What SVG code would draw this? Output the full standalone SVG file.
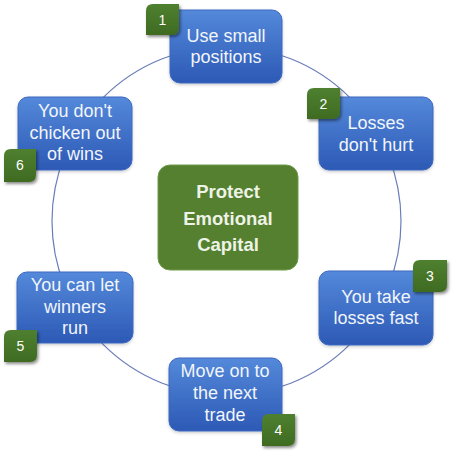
<svg xmlns="http://www.w3.org/2000/svg" width="456" height="451" viewBox="0 0 456 451">
<defs>
<linearGradient id="blue" x1="0" y1="0" x2="0" y2="1">
<stop offset="0" stop-color="#5489da"/>
<stop offset="1" stop-color="#2c59b5"/>
</linearGradient>
<linearGradient id="grn" x1="0" y1="0" x2="0" y2="1">
<stop offset="0" stop-color="#4f8030"/>
<stop offset="1" stop-color="#3f6b22"/>
</linearGradient>
<filter id="sh" x="-30%" y="-30%" width="170%" height="170%">
<feDropShadow dx="1.5" dy="2" stdDeviation="1.5" flood-color="#000" flood-opacity="0.45"/>
</filter>
<filter id="bsh" x="-10%" y="-10%" width="120%" height="130%">
<feDropShadow dx="0" dy="1.5" stdDeviation="1.5" flood-color="#000" flood-opacity="0.2"/>
</filter>
</defs>
<style>
.box{fill:url(#blue);stroke:#3d68c0;stroke-width:1;filter:url(#bsh)}
.t{font-family:"Liberation Sans",Arial,sans-serif;font-size:18px;fill:#f2f5fb;text-anchor:middle}
.ct{font-family:"Liberation Sans",Arial,sans-serif;font-size:18.5px;font-weight:bold;fill:#eef3e8;text-anchor:middle}
.badge{fill:url(#grn);filter:url(#sh)}
.n{font-family:"Liberation Sans",Arial,sans-serif;font-size:14px;fill:#ffffff;text-anchor:middle}
.ring{fill:none;stroke:#6a7db8;stroke-width:1.2}
</style>
<g id="connectors">
<circle class="ring" cx="226.5" cy="221" r="174.5"/>
</g>
<g id="center">
<rect x="158" y="165" width="140" height="105" rx="12" fill="#54802f" stroke="#6f9a4c" stroke-width="1"/>
<text class="ct" x="228" y="198">Protect</text>
<text class="ct" x="228" y="225">Emotional</text>
<text class="ct" x="228" y="251">Capital</text>
</g>
<g id="node1">
<rect class="box" x="170" y="10" width="112" height="73" rx="10"/>
<text class="t" x="226" y="42">Use small</text>
<text class="t" x="226" y="63">positions</text>
<path class="badge" d="M153,4 H179 V28 Q179,35 172,35 H146 V11 Q146,4 153,4 Z"/>
<text class="n" x="162.5" y="25">1</text>
</g>
<g id="node2">
<rect class="box" x="319" y="97" width="114" height="73" rx="10"/>
<text class="t" x="376" y="129">Losses</text>
<text class="t" x="376" y="151">don't hurt</text>
<path class="badge" d="M314,88 H340 V112 Q340,119 333,119 H307 V95 Q307,88 314,88 Z"/>
<text class="n" x="323.5" y="109">2</text>
</g>
<g id="node3">
<rect class="box" x="319" y="271" width="114" height="74" rx="10"/>
<text class="t" x="376" y="303">You take</text>
<text class="t" x="376" y="324">losses fast</text>
<path class="badge" d="M420,260 H447 V285 Q447,292 440,292 H413 V267 Q413,260 420,260 Z"/>
<text class="n" x="430" y="281">3</text>
</g>
<g id="node4">
<rect class="box" x="169" y="358" width="113" height="73" rx="10"/>
<text class="t" x="225" y="377">Move on to</text>
<text class="t" x="225" y="399">the next</text>
<text class="t" x="225" y="421">trade</text>
<path class="badge" d="M269,414 H295 V439 Q295,446 288,446 H262 V421 Q262,414 269,414 Z"/>
<text class="n" x="278.5" y="435">4</text>
</g>
<g id="node5">
<rect class="box" x="17" y="272" width="116" height="71" rx="10"/>
<text class="t" x="75" y="291">You can let</text>
<text class="t" x="75" y="313">winners</text>
<text class="t" x="75" y="334">run</text>
<path class="badge" d="M11,330 H37 V355 Q37,362 30,362 H4 V337 Q4,330 11,330 Z"/>
<text class="n" x="20.5" y="351">5</text>
</g>
<g id="node6">
<rect class="box" x="18" y="97" width="114" height="73" rx="10"/>
<text class="t" x="75" y="117">You don't</text>
<text class="t" x="75" y="139">chicken out</text>
<text class="t" x="75" y="160">of wins</text>
<path class="badge" d="M11,149 H36 V175 Q36,182 29,182 H4 V156 Q4,149 11,149 Z"/>
<text class="n" x="20" y="170">6</text>
</g>
</svg>
